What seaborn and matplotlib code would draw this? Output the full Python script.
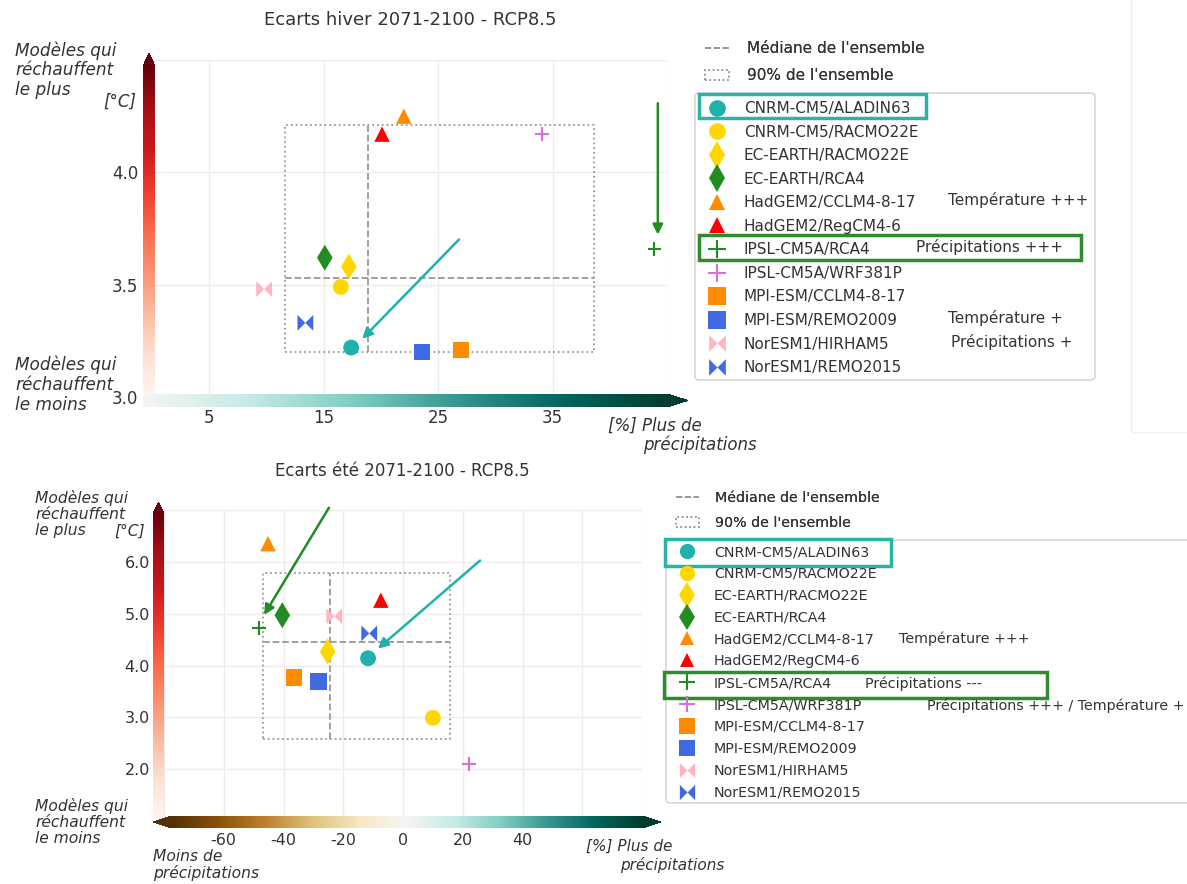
import numpy as np
import pandas as pd
import seaborn as sns
import matplotlib as mpl
import matplotlib.pyplot as plt
from matplotlib.lines import Line2D
from matplotlib.patches import Rectangle, FancyBboxPatch
from matplotlib.path import Path
from matplotlib.colors import LinearSegmentedColormap, Normalize

# --- donnees ---
modeles = ["CNRM-CM5/ALADIN63", "CNRM-CM5/RACMO22E", "EC-EARTH/RACMO22E", "EC-EARTH/RCA4",
           "HadGEM2/CCLM4-8-17", "HadGEM2/RegCM4-6", "IPSL-CM5A/RCA4", "IPSL-CM5A/WRF381P",
           "MPI-ESM/CCLM4-8-17", "MPI-ESM/REMO2009", "NorESM1/HIRHAM5", "NorESM1/REMO2015"]
couleurs = ["#20b2aa", "#ffd700", "#ffd700", "#228b22", "#ff8c00", "#ff0000",
            "#228b22", "#da70d6", "#ff8c00", "#4169e1", "#ffb6c1", "#4169e1"]

hiver_precip = [17.4, 16.5, 17.2, 15.1, 22.0, 20.1, 43.9, 34.1, 27.0, 23.6, 9.8, 13.4]
hiver_temp = [3.22, 3.49, 3.58, 3.62, 4.25, 4.17, 3.66, 4.17, 3.21, 3.20, 3.48, 3.33]
hiver_mediane = [18.9, 3.53]
hiver_90 = [11.6, 38.6, 3.20, 4.21]

ete_precip = [-11.7, 10.0, -25.2, -40.4, -45.2, -7.4, -48.3, 22.2, -36.5, -28.3, -23.0, -11.3]
ete_temp = [4.14, 2.99, 4.27, 4.97, 6.35, 5.26, 4.72, 2.10, 3.77, 3.69, 4.95, 4.62]
ete_mediane = [-24.3, 4.45]
ete_90 = [-47.0, 15.7, 2.58, 5.79]

# marqueur "noeud papillon"
bowtie = Path([(-1, -1), (-1, 1), (0, 0), (-1, -1), (1, 1), (1, -1), (0, 0), (1, 1)],
              [Path.MOVETO, Path.LINETO, Path.LINETO, Path.CLOSEPOLY,
               Path.MOVETO, Path.LINETO, Path.LINETO, Path.CLOSEPOLY])
marqueurs = ["o", "o", "d", "d", "^", "^", "+", "+", "s", "s", bowtie, bowtie]
# taille relative des marqueurs
echelle = [1.0, 1.0, 1.35, 1.35, 0.95, 0.95, 0.75, 0.75, 1.1, 1.1, 1.0, 1.0]

palette = dict(zip(modeles, couleurs))
styles = dict(zip(modeles, marqueurs))
croix_mod = ["IPSL-CM5A/RCA4", "IPSL-CM5A/WRF381P"]

sns.set_theme(style="whitegrid")
plt.rcParams['font.family'] = ['DejaVu Sans']

W, H = 1187, 884
fig = plt.figure(figsize=(W / 100, H / 100), dpi=100)


def rect(x0, y0, x1, y1):
    return [x0 / W, 1 - y1 / H, (x1 - x0) / W, (y1 - y0) / H]


def pt(x, y):
    return (x / W, 1 - y / H)


reds = plt.get_cmap("Reds")
brbg = plt.get_cmap("BrBG")
brbg_haut = LinearSegmentedColormap.from_list("brbg_haut", brbg(np.linspace(0.5, 1, 128)))


def barre(r, cmap, orient, extend, frac):
    cax = fig.add_axes(r)
    cb = fig.colorbar(mpl.cm.ScalarMappable(norm=Normalize(0, 1), cmap=cmap), cax=cax,
                      orientation=orient, extend=extend, extendfrac=frac)
    cb.outline.set_visible(False)
    cax.set_xticks([])
    cax.set_yticks([])
    return cax


def panneau(r, precip, temp, mediane, box, xlim, ylim, xticks, xlabels, yticks, ylabels, s, fs, pads):
    ax = fig.add_axes(r)
    df = pd.DataFrame({"modele": modeles, "precip": precip, "temp": temp})
    tailles = {m: s * e for m, e in zip(modeles, echelle)}
    plein = df[~df["modele"].isin(croix_mod)]
    croix = df[df["modele"].isin(croix_mod)]
    styles_plein = {k: v for k, v in styles.items() if k not in croix_mod}
    sns.scatterplot(data=plein, x="precip", y="temp", hue="modele", style="modele", size="modele",
                    palette=palette, markers=styles_plein,
                    sizes={k: tailles[k] for k in plein["modele"]},
                    linewidth=0, legend=False, ax=ax, zorder=3)
    sns.scatterplot(data=croix, x="precip", y="temp", hue="modele", palette=palette,
                    marker="+", s=s * 0.75, linewidth=1.5, legend=False, ax=ax, zorder=3)
    # 90% et mediane de l'ensemble
    ax.add_patch(Rectangle((box[0], box[2]), box[1] - box[0], box[3] - box[2], fill=False,
                           ls=":", ec="#999999", lw=1.3, zorder=2))
    ax.plot([box[0], box[1]], [mediane[1], mediane[1]], ls="--", color="#999999", lw=1.3, zorder=2)
    ax.plot([mediane[0], mediane[0]], [box[2], box[3]], ls="--", color="#999999", lw=1.3, zorder=2)
    ax.set_xlim(xlim)
    ax.set_ylim(ylim)
    ax.set_xticks(xticks)
    ax.set_xticklabels(xlabels)
    ax.set_yticks(yticks)
    ax.set_yticklabels(ylabels)
    ax.set_xlabel("")
    ax.set_ylabel("")
    ax.tick_params(axis="x", pad=pads[0], labelsize=fs, labelcolor="#333333", length=0)
    ax.tick_params(axis="y", pad=pads[1], labelsize=fs, labelcolor="#333333", length=0)
    ax.grid(color="#ececec", lw=1)
    sns.despine(ax=ax, left=True, bottom=True)
    return ax


# ---------- hiver ----------
ax1 = panneau(rect(152, 60, 667, 397), hiver_precip, hiver_temp, hiver_mediane, hiver_90,
              (0, 45), (3.0, 4.5), [5, 15, 25, 35, 45], ["5", "15", "25", "35", ""],
              [3.0, 3.5, 4.0, 4.5], ["3.0", "3.5", "4.0", ""], 130, 12, (8.5, 10))
ax1.annotate("", xy=(18.2, 3.25), xytext=(27.0, 3.71),
             arrowprops=dict(arrowstyle="-|>", color="#20b2aa", lw=1.8, mutation_scale=15))
ax1.annotate("", xy=(44.2, 3.71), xytext=(44.2, 4.32), annotation_clip=False,
             arrowprops=dict(arrowstyle="-|>", color="#228b22", lw=1.8, mutation_scale=15))
barre(rect(143, 53, 155, 397), reds, "vertical", "max", 0.04)
barre(rect(143, 394, 688, 407), brbg_haut, "horizontal", "max", 0.04)

# ---------- ete ----------
ax2 = panneau(rect(164, 510, 642, 821), ete_precip, ete_temp, ete_mediane, ete_90,
              (-80, 80), (1, 7), list(range(-80, 81, 20)),
              ["", "-60", "-40", "-20", "0", "20", "40", "", ""],
              [1, 2, 3, 4, 5, 6, 7], ["", "2.0", "3.0", "4.0", "5.0", "6.0", ""], 130, 11.5, (8.5, 10))
ax2.annotate("", xy=(-9.1, 4.29), xytext=(26.5, 6.06),
             arrowprops=dict(arrowstyle="-|>", color="#20b2aa", lw=1.8, mutation_scale=15))
ax2.annotate("", xy=(-47.0, 4.93), xytext=(-24.3, 7.09), annotation_clip=False,
             arrowprops=dict(arrowstyle="-|>", color="#228b22", lw=1.8, mutation_scale=15))
barre(rect(153, 502, 164, 817), reds, "vertical", "max", 0.04)
barre(rect(153, 816, 661, 828), brbg, "horizontal", "both", 0.04)

# ---------- textes ----------
gris = "#333333"
fig.text(*pt(410, 20), "Ecarts hiver 2071-2100 - RCP8.5", ha="center", va="center", fontsize=13, color=gris)
fig.text(*pt(402, 471), "Ecarts été 2071-2100 - RCP8.5", ha="center", va="center", fontsize=12, color=gris)

it = dict(style="italic", color=gris, va="top", ha="left")
fig.text(*pt(15, 41), "Modèles qui\nréchauffent\nle plus", fontsize=12.2, linespacing=1.12, **it)
fig.text(*pt(15, 356), "Modèles qui\nréchauffent\nle moins", fontsize=12.2, linespacing=1.12, **it)
fig.text(*pt(136, 93), "[°C]", fontsize=12, **dict(it, ha="right"))
fig.text(*pt(608, 417), "[%] Plus de", fontsize=12, **it)
fig.text(*pt(643, 436), "précipitations", fontsize=12, **it)

fig.text(*pt(35, 490), "Modèles qui\nréchauffent\nle plus", fontsize=11.2, linespacing=1.1, **it)
fig.text(*pt(35, 798), "Modèles qui\nréchauffent\nle moins", fontsize=11.2, linespacing=1.1, **it)
fig.text(*pt(145, 524), "[°C]", fontsize=11.2, **dict(it, ha="right"))
fig.text(*pt(153, 849), "Moins de\nprécipitations", fontsize=11.2, linespacing=1.1, **it)
fig.text(*pt(586, 839), "[%] Plus de", fontsize=11, **it)
fig.text(*pt(620, 857), "précipitations", fontsize=11, **it)


# ---------- legendes ----------
def poignees(ms):
    h = []
    for m, c, e in zip(marqueurs, couleurs, echelle):
        if isinstance(m, str) and m == "+":
            h.append(Line2D([], [], marker="+", color=c, ls="", markersize=ms * 1.05, markeredgewidth=1.5))
        else:
            h.append(Line2D([], [], marker=m, color=c, ls="", markersize=ms * np.sqrt(e), markeredgewidth=0))
    return h


ens = [Line2D([], [], color="#999999", ls="--", lw=1.2),
       Rectangle((0, 0), 1, 1, fill=False, ec="#999999", ls=":", lw=1.2)]
ens_lab = ["Médiane de l'ensemble", "90% de l'ensemble"]

# (x, y legende 1, taille, interligne 1, taille marqueur, y legende 2, interligne 2, pad texte)
for (x, y, fs, sp1, ms, yb, sp2, tp) in [(705, 41, 11, 0.8, 12, 101, 0.56, 0.95),
                                         (676, 491, 10.3, 0.8, 11, 545, 0.55, 1.05)]:
    l1 = fig.legend(ens, ens_lab, loc="upper left", bbox_to_anchor=pt(x, y), frameon=False,
                    fontsize=fs, handlelength=1.6, handletextpad=1.15, labelspacing=sp1,
                    borderpad=0, borderaxespad=0, labelcolor=gris)
    l2 = fig.legend(poignees(ms), modeles, loc="upper left", bbox_to_anchor=pt(x, yb), frameon=False,
                    fontsize=fs, handlelength=1.6, handletextpad=tp, labelspacing=sp2,
                    borderpad=0, borderaxespad=0, labelcolor=gris)
    fig.add_artist(l1)

# cadres des legendes
fig.add_artist(FancyBboxPatch(pt(695, 380), 400 / W, 287 / H, boxstyle="round,pad=0,rounding_size=0.004",
                              transform=fig.transFigure, fill=False, ec="#d0d0d0", lw=1))
fig.add_artist(FancyBboxPatch(pt(666, 803), 540 / W, 263 / H, boxstyle="round,pad=0,rounding_size=0.004",
                              transform=fig.transFigure, fill=False, ec="#d0d0d0", lw=1))

# mises en evidence
for (x0, y0, x1, y1, c) in [(699, 94, 926, 118, "#2ab3ab"), (699, 235, 1081, 260, "#2e8b2e"),
                            (665, 539, 891, 566, "#2ab3ab"), (664, 672, 1047, 698, "#2e8b2e")]:
    fig.add_artist(Rectangle(pt(x0, y1), (x1 - x0) / W, (y1 - y0) / H, transform=fig.transFigure,
                             fill=False, ec=c, lw=2.5))

note = dict(color=gris, va="center", ha="left")
fig.text(*pt(948, 200), "Température +++", fontsize=11, **note)
fig.text(*pt(916, 247), "Précipitations +++", fontsize=11, **note)
fig.text(*pt(948, 318), "Température +", fontsize=11, **note)
fig.text(*pt(951, 342), "Précipitations +", fontsize=11, **note)
fig.text(*pt(899, 639), "Température +++", fontsize=10.3, **note)
fig.text(*pt(865, 684), "Précipitations ---", fontsize=10.3, **note)
fig.text(*pt(927, 706), "Précipitations +++ / Température +", fontsize=10.3, **note)

# traits de capture d'ecran
fig.add_artist(Line2D([1131 / W, 1131 / W], [1, 1 - 432 / H], transform=fig.transFigure, color="#f0f0f0", lw=1))
fig.add_artist(Line2D([1131 / W, 1], [1 - 432 / H, 1 - 432 / H], transform=fig.transFigure, color="#f0f0f0", lw=1))

fig.savefig("out.png", dpi=100)
